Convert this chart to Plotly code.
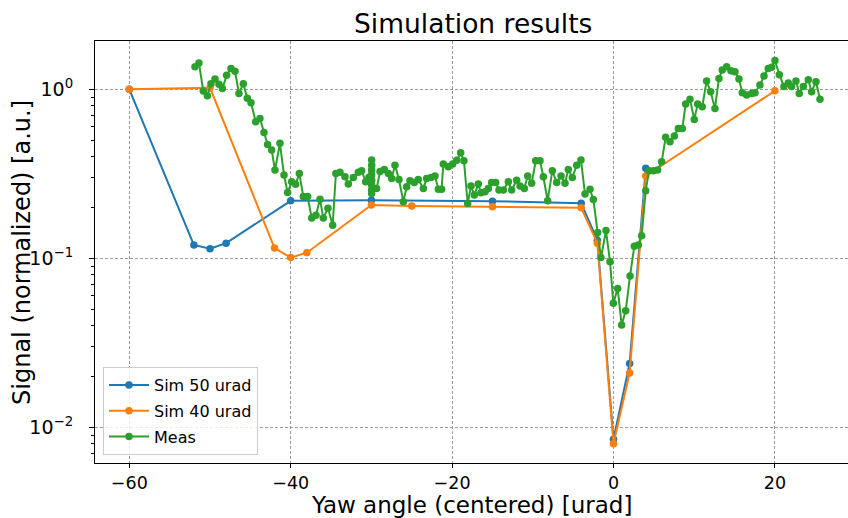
import plotly.graph_objects as go

# ---- data ----
sim50_x = [-60, -52, -50, -48, -40, -30, -15, -4, -2, 0, 2, 4]
sim50_y = [1.0, 0.120, 0.114, 0.123, 0.219, 0.221, 0.218, 0.212, 0.128, 0.0085, 0.0239, 0.341]

sim40_x = [-60, -50, -42, -40, -38, -30, -25, -15, -4, -2, 0, 2, 4, 20]
sim40_y = [1.0, 1.02, 0.115, 0.101, 0.108, 0.207, 0.204, 0.202, 0.199, 0.123, 0.0080, 0.021, 0.307, 0.98]

meas_x = [
    -51.86, -51.37, -50.83, -50.33, -49.88, -49.38, -48.89, -48.47, -47.94, -47.40,
    -46.90, -46.41, -45.87, -45.38, -44.92, -44.34, -43.81, -43.31, -42.86, -42.36,
    -41.95, -41.33, -40.83, -40.38, -39.88, -39.39, -38.93, -38.44, -37.90, -37.40,
    -36.87, -36.37, -35.96, -35.38, -34.80, -34.40, -33.89, -33.27, -32.86, -32.24,
    -31.62, -31.21, -30.71, -30.30,
    -29.97, -29.97, -29.97, -29.97, -29.97, -29.97, -29.97, -29.97,
    -29.35, -28.93, -28.40, -27.90, -27.49, -27.08, -26.58, -26.04, -25.63, -25.22,
    -24.68, -24.19, -23.56, -23.15, -22.62, -22.12, -21.70, -21.30, -21.09, -20.47,
    -19.93, -19.43, -18.94, -18.53, -18.07, -17.66, -17.24, -16.75, -16.42, -15.92,
    -15.51, -15.10, -14.60, -14.19, -13.65, -13.03, -12.62, -12.00, -11.58, -11.05,
    -10.63, -10.14, -9.64, -9.11, -8.69, -8.16, -7.58, -7.04, -6.50, -6.01,
    -5.60, -5.10, -4.56, -4.03, -3.53, -2.91, -2.50, -1.96, -1.55, -0.93,
    -0.43, -0.02, 0.52, 1.01, 1.51, 2.05, 2.58, 3.08, 3.49, 3.99,
    4.40, 4.94, 5.47, 5.97, 6.46, 7.00, 7.54, 8.03, 8.53, 8.94,
    9.48, 10.01, 10.43, 11.00, 11.54, 12.04, 12.57, 13.07, 13.48, 14.02,
    14.56, 15.05, 15.55, 15.96, 16.50, 17.12, 17.53, 18.15, 18.65, 19.18,
    19.60, 20.01, 20.55, 21.12, 21.66, 22.07, 22.61, 23.02, 23.52, 24.14,
    24.55, 25.09, 25.59,
]
meas_y = [
    1.36, 1.43, 0.977, 0.916, 1.08, 1.15, 1.07, 1.01, 1.21, 1.33,
    1.28, 0.946, 1.08, 0.885, 0.834, 0.644, 0.673, 0.556, 0.472, 0.438,
    0.333, 0.479, 0.311, 0.245, 0.284, 0.274, 0.318, 0.232, 0.232, 0.173,
    0.180, 0.224, 0.173, 0.198, 0.157, 0.318, 0.323, 0.304, 0.275, 0.301,
    0.323, 0.330, 0.284, 0.302,
    0.382, 0.356, 0.333, 0.311, 0.290, 0.272, 0.254, 0.242,
    0.259, 0.326, 0.336, 0.318, 0.297, 0.356, 0.293, 0.216, 0.265, 0.288,
    0.281, 0.293, 0.259, 0.297, 0.301, 0.307, 0.256, 0.256, 0.361, 0.348,
    0.361, 0.381, 0.422, 0.378, 0.211, 0.268, 0.237, 0.275, 0.244, 0.248,
    0.259, 0.281, 0.281, 0.254, 0.254, 0.284, 0.254, 0.290, 0.268, 0.259,
    0.307, 0.278, 0.378, 0.378, 0.304, 0.219, 0.330, 0.281, 0.307, 0.278,
    0.336, 0.301, 0.356, 0.382, 0.240, 0.256, 0.223, 0.142, 0.101, 0.146,
    0.0955, 0.0542, 0.0664, 0.0403, 0.0490, 0.0785, 0.118, 0.120, 0.136, 0.251,
    0.330, 0.330, 0.333, 0.373, 0.520, 0.490, 0.530, 0.587, 0.587, 0.818,
    0.873, 0.664, 0.818, 0.789, 1.12, 0.968, 0.771, 1.16, 1.30, 1.36,
    1.29, 1.27, 1.15, 0.955, 0.925, 0.946, 0.955, 1.06, 1.20, 1.33,
    1.35, 1.48, 1.22, 1.04, 1.09, 1.04, 1.12, 0.946, 1.04, 1.14,
    0.968, 1.11, 0.873,
]

x_ticks = [-60, -40, -20, 0, 20]
x_tick_text = ["\u221260", "\u221240", "\u221220", "0", "20"]
y_ticks = [1, 0.1, 0.01]
y_tick_text = ["10<sup>0</sup>", "10<sup>\u22121</sup>", "10<sup>\u22122</sup>"]
y_minor_ticks = [m * d for d in (0.001, 0.01, 0.1, 1.0) for m in range(2, 10)]

FONT = "DejaVu Sans"
BLUE, ORANGE, GREEN = "#1f77b4", "#ff7f0e", "#2ca02c"
Y_RANGE = [-2.211, 0.286]

fig = go.Figure()
for i, (name, xs, ys, col) in enumerate([("Sim 50 urad", sim50_x, sim50_y, BLUE),
                                         ("Sim 40 urad", sim40_x, sim40_y, ORANGE),
                                         ("Meas", meas_x, meas_y, GREEN)]):
    fig.add_trace(go.Scatter(x=xs, y=ys, name=name, mode="lines+markers",
                             legendgroup=f"g{i}",
                             line=dict(color=col, width=2),
                             marker=dict(color=col, size=7.5)))

grid = dict(showgrid=True, gridcolor="#9a9a9a", gridwidth=0.6, griddash="3px,2px")
fig.update_xaxes(range=[-64.25, 29.06], tickvals=x_ticks, ticktext=x_tick_text,
                 showline=True, linecolor="black", linewidth=1.2, mirror=True,
                 ticks="outside", ticklen=4, tickcolor="black", zeroline=False,
                 tickfont=dict(family=FONT, size=17.5, color="black"), **grid)
fig.update_layout(
    yaxis=dict(type="log", range=Y_RANGE, tickvals=y_ticks, ticktext=y_tick_text,
               showline=True, linecolor="black", linewidth=1.2, mirror=False,
               ticks="outside", ticklen=5, tickcolor="black", zeroline=False,
               ticklabelstandoff=12,
               tickfont=dict(family=FONT, size=19, color="black"), **grid),
    yaxis2=dict(type="log", range=Y_RANGE, overlaying="y", side="left",
                tickvals=y_minor_ticks, showticklabels=False, showgrid=False,
                ticks="outside", ticklen=3, tickcolor="black", zeroline=False,
                showline=False),
)
# invisible helper trace so the minor-tick axis is drawn
fig.add_trace(go.Scatter(x=[sim50_x[0]], y=[sim50_y[0]], yaxis="y2", mode="markers",
                         marker=dict(opacity=0), showlegend=False, hoverinfo="skip"))

# axis titles as annotations for exact placement
fig.add_annotation(text="Yaw angle (centered) [urad]", xref="paper", yref="paper",
                   x=0.5, y=-0.0985, xanchor="center", yanchor="middle", showarrow=False,
                   font=dict(family=FONT, size=23, color="black"))
fig.add_annotation(text="Signal (normalized) [a.u.]", xref="paper", yref="paper",
                   x=-0.097, y=0.5, xanchor="center", yanchor="middle", showarrow=False,
                   textangle=-90, font=dict(family=FONT, size=24, color="black"))

fig.update_layout(
    width=848, height=518,
    margin=dict(l=95, r=0, t=41, b=55),
    paper_bgcolor="white", plot_bgcolor="white",
    title=dict(text="Simulation results", x=0.558, xanchor="center",
               y=0.954, yanchor="middle", font=dict(family=FONT, size=26.5, color="black")),
    legend=dict(x=0.0106, y=0.019, xanchor="left", yanchor="bottom",
                bgcolor="rgba(255,255,255,0.8)", bordercolor="#cccccc", borderwidth=1,
                tracegroupgap=2, itemwidth=40,
                font=dict(family=FONT, size=16, color="black")),
    showlegend=True,
)

fig.write_html("out.html")
